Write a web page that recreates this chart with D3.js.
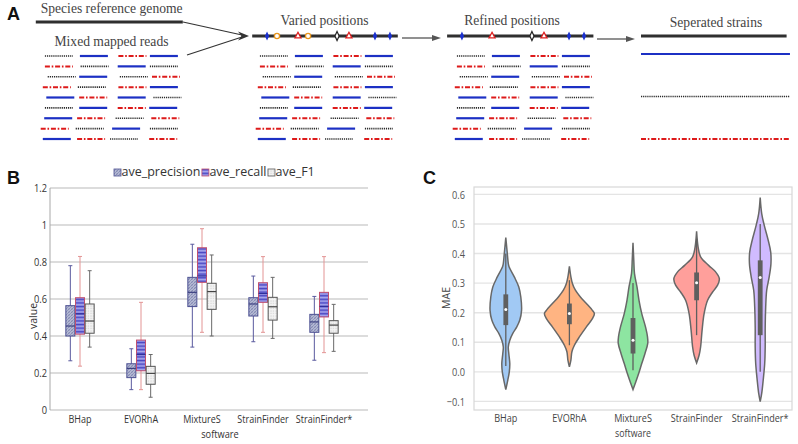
<!DOCTYPE html>
<html><head><meta charset="utf-8">
<script src="https://cdn.jsdelivr.net/npm/d3@7/dist/d3.min.js"></script>
<style>
body{margin:0;background:#fff}
svg{display:block}
</style></head><body>
<svg id="fig" width="798" height="444" xmlns="http://www.w3.org/2000/svg"></svg>
<script>
// ================= Panel A data (schematic) =================
const readKinds = [
  ["D","B","R","B"],
  ["R","D","B","D"],
  ["D","B","D","R"],
  ["R","D","R","B"],
  ["B","R","B","D"],
  ["D","B","R","B"],
  ["B","R","D","R"],
  ["R","D","B","D"],
  ["B","R","D","R"]
];
const readStarts = [
  [3.5,28.5,56,78.5],
  [3.5,29,55.5,78.5],
  [5.5,28,57,80],
  [2,27,56,78.5],
  [4.5,28,55.5,81],
  [3.5,28,55.5,78],
  [3,26.5,54,79.5],
  [0.5,25.5,51.5,78.5],
  [2,26.5,50,78]
];
const readLength = 20;
const variedBlue = [8.6,85.7,96.4];
const variedOrange = [15.7,37.9];
const variedRed = [30.7,67.1];
const variedBlack = [58.6];
const refinedBlue = [7.1,83.6,94.3];
const refinedRed = [28.6,65.7];
const refinedBlack = [57.1];
const strainKinds = ["B","D","R"];

// ================= Panel B data =================
const categories = ["BHap","EVORhA","MixtureS","StrainFinder","StrainFinder*"];
const seriesB = ["ave_precision","ave_recall","ave_F1"];
// [min, q1, median, q3, max]
const precisionStats = [
  [0.266,0.400,0.454,0.564,0.780],
  [0.110,0.175,0.225,0.250,0.331],
  [0.340,0.559,0.636,0.717,0.896],
  [0.369,0.508,0.573,0.607,0.724],
  [0.269,0.420,0.476,0.517,0.614]
];
const recallStats = [
  [0.237,0.410,0.520,0.607,0.830],
  [0.110,0.212,0.300,0.378,0.582],
  [0.420,0.690,0.725,0.877,0.980],
  [0.420,0.582,0.630,0.688,0.829],
  [0.310,0.503,0.560,0.636,0.829]
];
const f1Stats = [
  [0.340,0.415,0.481,0.573,0.753],
  [0.069,0.139,0.198,0.236,0.300],
  [0.400,0.544,0.640,0.685,0.838],
  [0.387,0.486,0.558,0.609,0.717],
  [0.317,0.415,0.459,0.483,0.571]
];
const ticksB = [0,0.2,0.4,0.6,0.8,1,1.2];

// ================= Panel C data =================
const ticksC = [-0.1,0,0.1,0.2,0.3,0.4,0.5,0.6];
// violin outlines: [MAE value, relative density]
const violinBHap = [[0.454,0],[0.40,0.06],[0.366,0.10],[0.355,0.13],[0.321,0.34],[0.287,0.52],[0.253,0.60],[0.208,0.63],[0.175,0.56],[0.152,0.44],[0.13,0.28],[0.107,0.16],[0.084,0.10],[0.062,0.12],[0.028,0.16],[0.0,0.14],[-0.028,0.08],[-0.06,0]];
const violinEVORhA = [[0.357,0],[0.321,0.06],[0.299,0.12],[0.276,0.24],[0.253,0.44],[0.231,0.68],[0.208,0.92],[0.197,1.0],[0.18,0.92],[0.152,0.68],[0.118,0.40],[0.09,0.20],[0.068,0.10],[0.04,0.06],[0.017,0]];
const violinMixtureS = [[0.436,0],[0.38,0.03],[0.332,0.06],[0.287,0.16],[0.242,0.24],[0.197,0.35],[0.152,0.50],[0.118,0.58],[0.096,0.59],[0.062,0.48],[0.028,0.35],[-0.005,0.23],[-0.034,0.11],[-0.06,0]];
const violinStrainFinder = [[0.475,0],[0.422,0.06],[0.389,0.16],[0.36,0.48],[0.338,0.76],[0.315,0.91],[0.293,0.84],[0.27,0.64],[0.242,0.44],[0.197,0.30],[0.141,0.22],[0.084,0.16],[0.056,0.10],[0.03,0]];
const violinStrainFinderStar = [[0.589,0],[0.535,0.06],[0.496,0.16],[0.445,0.32],[0.405,0.42],[0.366,0.43],[0.321,0.36],[0.276,0.26],[0.22,0.22],[0.152,0.20],[0.084,0.20],[0.028,0.18],[-0.028,0.12],[-0.073,0.06],[-0.101,0]];
// inner box: [whiskerLow, q1, median, q3, whiskerHigh]
const innerBoxC = [
  [0.02,0.158,0.211,0.262,0.40],
  [0.09,0.161,0.197,0.231,0.31],
  [0.005,0.062,0.107,0.182,0.30],
  [0.124,0.242,0.301,0.336,0.45],
  [0.0,0.124,0.319,0.377,0.50]
];
const violinColors = ["#a1c9f4","#ffb482","#8de5a1","#ff9f9b","#d0bbff"];

// ===========================================================
const svg = d3.select("#fig");
const defs = svg.append("defs");

// ---------- Panel A ----------
const gA = svg.append("g");
const readStyle = {
  D:{stroke:"#2a2a2a", width:1.7, dash:"1.2,0.9"},
  B:{stroke:"#1c30c4", width:2.2, dash:null},
  R:{stroke:"#dd1a1a", width:2, dash:"5,1.8,1.6,1.8"}
};
const rowY = d3.scaleLinear().domain([0,8]).range([56,139]);
const blockOrigins = [40,255,452];
const genomeScales = blockOrigins.map(o => d3.scaleLinear().domain([0,100]).range([o,o+140]));

genomeScales.forEach(gx => {
  const reads = [];
  readKinds.forEach((row,i)=>row.forEach((k,j)=>reads.push({k, s:readStarts[i][j], r:i})));
  gA.append("g").selectAll("line").data(reads).join("line")
    .attr("x1",d=>gx(d.s)).attr("x2",d=>gx(d.s+readLength))
    .attr("y1",d=>rowY(d.r)).attr("y2",d=>rowY(d.r))
    .attr("stroke",d=>readStyle[d.k].stroke)
    .attr("stroke-width",d=>readStyle[d.k].width)
    .attr("stroke-dasharray",d=>readStyle[d.k].dash);
});

// reference genome lines
const g1 = genomeScales[0], g2 = genomeScales[1], g3 = genomeScales[2];
const g4 = d3.scaleLinear().domain([0,100]).range([641,781]);
gA.append("line").attr("x1",g1(-3)).attr("x2",g1(102)).attr("y1",22).attr("y2",22).attr("stroke","#2f2f2f").attr("stroke-width",3);
gA.append("line").attr("x1",g2(-2)).attr("x2",g2(102)).attr("y1",36).attr("y2",36).attr("stroke","#2f2f2f").attr("stroke-width",3);
gA.append("line").attr("x1",g3(-3.5)).attr("x2",g3(101)).attr("y1",36).attr("y2",36).attr("stroke","#2f2f2f").attr("stroke-width",3);
gA.append("line").attr("x1",g4(0)).attr("x2",g4(104)).attr("y1",36).attr("y2",36).attr("stroke","#2f2f2f").attr("stroke-width",3);

// separated strains
const strainY = d3.scalePoint().domain(strainKinds).range([54,139]);
gA.append("g").selectAll("line").data(strainKinds).join("line")
  .attr("x1",g4(0)).attr("x2",g4(106.4))
  .attr("y1",d=>strainY(d)).attr("y2",d=>strainY(d))
  .attr("stroke",d=>readStyle[d].stroke)
  .attr("stroke-width",d=>readStyle[d].width)
  .attr("stroke-dasharray",d=>readStyle[d].dash);

// markers
const diamond = "M0,-4.6 L2.1,0 L0,4.6 L-2.1,0Z";
const tri = "M0,-3.2 L3,2.4 L-3,2.4Z";
function markers(gx, blue, orange, red, black){
  const g = gA.append("g");
  g.selectAll(".bd").data(blue).join("path").attr("d",diamond)
    .attr("transform",d=>`translate(${gx(d)},36)`).attr("fill","#1a30d0");
  g.selectAll(".oc").data(orange).join("circle").attr("cx",d=>gx(d)).attr("cy",36).attr("r",2.6)
    .attr("fill","#fff").attr("stroke","#e8961e").attr("stroke-width",1.3);
  g.selectAll(".rt").data(red).join("path").attr("d",tri)
    .attr("transform",d=>`translate(${gx(d)},35.5)`).attr("fill","#fff").attr("stroke","#dd2020").attr("stroke-width",1.3);
  g.selectAll(".kd").data(black).join("path").attr("d",diamond)
    .attr("transform",d=>`translate(${gx(d)},36)`).attr("fill","#fff").attr("stroke","#222").attr("stroke-width",1.2);
}
markers(g2, variedBlue, variedOrange, variedRed, variedBlack);
markers(g3, refinedBlue, [], refinedRed, refinedBlack);

// arrows
gA.append("line").attr("x1",183).attr("y1",22).attr("x2",242).attr("y2",35).attr("stroke","#333").attr("stroke-width",1.2);
gA.append("line").attr("x1",187).attr("y1",55).attr("x2",242).attr("y2",37).attr("stroke","#333").attr("stroke-width",1.2);
gA.append("path").attr("d","M249,36 L238,31.5 L241.5,36 L238,40.5Z").attr("fill","#333");
gA.append("line").attr("x1",402).attr("y1",38).attr("x2",434).attr("y2",38).attr("stroke","#555").attr("stroke-width",1.3);
gA.append("path").attr("d","M441,38 L432,35 L432,41Z").attr("fill","#555");
gA.append("line").attr("x1",597).attr("y1",39).attr("x2",628).attr("y2",39).attr("stroke","#555").attr("stroke-width",1.3);
gA.append("path").attr("d","M635,39 L626,36 L626,42Z").attr("fill","#555");

// texts A
const serif = "'Liberation Serif','Times New Roman',serif";
gA.append("text").attr("x",7).attr("y",20).text("A").attr("font-family","'Liberation Sans',Arial,sans-serif").attr("font-weight","bold").attr("font-size",18).attr("fill","#111");
const aTexts = [
  {t:"Species reference genome", x:40.7, y:13, a:"start"},
  {t:"Mixed mapped reads", x:111.5, y:46, a:"middle"},
  {t:"Varied positions", x:324.5, y:25, a:"middle"},
  {t:"Refined positions", x:512, y:25, a:"middle"},
  {t:"Seperated strains", x:716, y:27, a:"middle"}
];
gA.selectAll(".at").data(aTexts).join("text").attr("x",d=>d.x).attr("y",d=>d.y).attr("text-anchor",d=>d.a)
  .attr("font-family",serif).attr("font-size",13.6).attr("fill","#444").text(d=>d.t);

// ---------- Panel B ----------
function pattern(id, w, h, bg, draw){
  const p = defs.append("pattern").attr("id",id).attr("patternUnits","userSpaceOnUse").attr("width",w).attr("height",h);
  p.append("rect").attr("width",w).attr("height",h).attr("fill",bg);
  draw(p);
}
pattern("patPrec",3,3,"#b4b9d2",p=>{
  p.append("path").attr("d","M0,3 L3,0 M-1,1 L1,-1 M2,4 L4,2").attr("stroke","#7a80ad").attr("stroke-width",0.8);
  p.append("path").attr("d","M0,0 L3,3").attr("stroke","#9aa0c4").attr("stroke-width",0.6);
});
pattern("patRec",4,3.6,"#7b79dc",p=>{
  p.append("rect").attr("y",0).attr("width",4).attr("height",1).attr("fill","#4a48c2");
  p.append("rect").attr("y",2).attr("width",4).attr("height",0.9).attr("fill","#b4b4f0");
});
pattern("patF1",2.5,2.5,"#f4f4f4",p=>{
  p.append("rect").attr("x",0.5).attr("y",0.5).attr("width",0.9).attr("height",0.9).attr("fill","#b5b5b5");
});

const sans = "'Open Sans','Noto Sans',sans-serif";
const gB = svg.append("g");
const xB = d3.scaleBand().domain(categories).range([49.5,354.5]);
const xSub = d3.scaleBand().domain(seriesB).range([-14.5,14.5]);
const yB = d3.scaleLinear().domain([0,1.2]).range([410,188]);

gB.append("g").selectAll("line").data(ticksB).join("line")
  .attr("x1",50).attr("x2",368).attr("y1",d=>yB(d)).attr("y2",d=>yB(d))
  .attr("stroke","#b9b9b9").attr("stroke-width",1.1);
gB.append("line").attr("x1",50).attr("x2",50).attr("y1",yB(1.2)).attr("y2",yB(0)).attr("stroke","#a8a8a8").attr("stroke-width",1);

function squeeze(sel,k){
  sel.each(function(){
    const t = d3.select(this); const x = +t.attr("x")||0;
    t.attr("transform",`translate(${x},0) scale(${k},1) translate(${-x},0)`);
  });
}

const yAxisB = gB.append("g").attr("transform","translate(50,0)")
  .call(d3.axisLeft(yB).tickValues(ticksB).tickFormat(d=>String(d)).tickSize(0).tickPadding(3));
yAxisB.select(".domain").remove();
yAxisB.selectAll("text").attr("font-family",sans).attr("font-size",10.5).attr("fill","#333");
squeeze(yAxisB.selectAll("text"),0.88);

const xAxisB = gB.append("g").attr("transform","translate(0,410)")
  .call(d3.axisBottom(xB).tickSize(0).tickPadding(6));
xAxisB.select(".domain").remove();
xAxisB.selectAll("text").attr("font-family",sans).attr("font-size",10.5).attr("fill","#333");
squeeze(xAxisB.selectAll("text"),0.86);

const seriesStyle = [
  {id:"ave_precision", stats:precisionStats, fill:"url(#patPrec)", border:"#4d5192", whisker:"#5a5a9e", median:"#3c4080"},
  {id:"ave_recall", stats:recallStats, fill:"url(#patRec)", border:"#c2506e", whisker:"#e39494", median:"#30309a"},
  {id:"ave_F1", stats:f1Stats, fill:"url(#patF1)", border:"#555", whisker:"#6a6a6a", median:"#444"}
];
const boxW = 9, capW = 4;
seriesStyle.forEach(s=>{
  const data = categories.map((c,i)=>({c, v:s.stats[i], cx: xB(c)+xB.bandwidth()/2 + xSub(s.id)+xSub.bandwidth()/2}));
  const g = gB.append("g");
  g.selectAll(".w").data(data).join("line")
    .attr("x1",d=>d.cx).attr("x2",d=>d.cx).attr("y1",d=>yB(d.v[0])).attr("y2",d=>yB(d.v[4]))
    .attr("stroke",s.whisker).attr("stroke-width",1);
  g.selectAll(".cl").data(data).join("line")
    .attr("x1",d=>d.cx-capW/2).attr("x2",d=>d.cx+capW/2).attr("y1",d=>yB(d.v[0])).attr("y2",d=>yB(d.v[0]))
    .attr("stroke",s.whisker).attr("stroke-width",1);
  g.selectAll(".ch").data(data).join("line")
    .attr("x1",d=>d.cx-capW/2).attr("x2",d=>d.cx+capW/2).attr("y1",d=>yB(d.v[4])).attr("y2",d=>yB(d.v[4]))
    .attr("stroke",s.whisker).attr("stroke-width",1);
  g.selectAll(".b").data(data).join("rect")
    .attr("x",d=>d.cx-boxW/2).attr("width",boxW).attr("y",d=>yB(d.v[3])).attr("height",d=>yB(d.v[1])-yB(d.v[3]))
    .attr("fill",s.fill).attr("stroke",s.border).attr("stroke-width",1);
  g.selectAll(".m").data(data).join("line")
    .attr("x1",d=>d.cx-boxW/2).attr("x2",d=>d.cx+boxW/2).attr("y1",d=>yB(d.v[2])).attr("y2",d=>yB(d.v[2]))
    .attr("stroke",s.median).attr("stroke-width",1.2);
});

// legend
let lx = 114;
seriesStyle.forEach((s,i)=>{
  gB.append("rect").attr("x",lx).attr("y",169).attr("width",7).attr("height",7)
    .attr("fill",s.fill).attr("stroke",s.border).attr("stroke-width",0.8);
  const t = gB.append("text").attr("x",lx+7.5).attr("y",176).text(s.id)
    .attr("font-family",sans).attr("font-size",12.5).attr("fill","#333");
  lx = lx + 7.5 + t.node().getComputedTextLength() + 1.5;
});

gB.append("text").attr("x",7).attr("y",184).text("B").attr("font-family","'Liberation Sans',Arial,sans-serif").attr("font-weight","bold").attr("font-size",18).attr("fill","#111");
gB.append("text").attr("transform","translate(37,316) rotate(-90)").attr("text-anchor","middle").text("value")
  .attr("font-family",sans).attr("font-size",10.5).attr("fill","#333");
const swB = gB.append("text").attr("x",220).attr("y",438).attr("text-anchor","middle").text("software")
  .attr("font-family",sans).attr("font-size",10.5).attr("fill","#333");
squeeze(swB,0.88);

// ---------- Panel C ----------
const gC = svg.append("g");
const xC = d3.scaleBand().domain(categories).range([474,792]);
const yC = d3.scaleLinear().domain([-0.129,0.625]).range([410,187]);
const wC = d3.scaleLinear().domain([0,1]).range([0,25]);

gC.append("g").selectAll("line").data(ticksC).join("line")
  .attr("x1",474).attr("x2",792).attr("y1",d=>yC(d)).attr("y2",d=>yC(d))
  .attr("stroke","#e4e4e4").attr("stroke-width",1.4);
gC.append("rect").attr("x",474).attr("y",187).attr("width",318).attr("height",223)
  .attr("fill","none").attr("stroke","#d8d8d8").attr("stroke-width",1.2);

const yAxisC = gC.append("g").attr("transform","translate(474,0)")
  .call(d3.axisLeft(yC).tickValues(ticksC).tickFormat(d3.format(".1f")).tickSize(0).tickPadding(9));
yAxisC.select(".domain").remove();
yAxisC.selectAll("text").attr("font-family",sans).attr("font-size",11.5).attr("fill","#555");
squeeze(yAxisC.selectAll("text"),0.8);

const xAxisC = gC.append("g").attr("transform","translate(0,410)")
  .call(d3.axisBottom(xC).tickSize(0).tickPadding(4));
xAxisC.select(".domain").remove();
xAxisC.selectAll("text").attr("font-family",sans).attr("font-size",10.8).attr("fill","#444");
squeeze(xAxisC.selectAll("text"),0.84);

const violins = [violinBHap, violinEVORhA, violinMixtureS, violinStrainFinder, violinStrainFinderStar];
categories.forEach((c,i)=>{
  const cx = xC(c) + xC.bandwidth()/2;
  const area = d3.area().curve(d3.curveCatmullRom.alpha(0.5))
    .y(d=>yC(d[0])).x0(d=>cx-wC(d[1])).x1(d=>cx+wC(d[1]));
  gC.append("path").datum(violins[i]).attr("d",area)
    .attr("fill",violinColors[i]).attr("stroke","#686868").attr("stroke-width",1.5);
  const b = innerBoxC[i];
  gC.append("line").attr("x1",cx).attr("x2",cx).attr("y1",yC(b[0])).attr("y2",yC(b[4]))
    .attr("stroke","#5f5f5f").attr("stroke-width",1.3);
  gC.append("rect").attr("x",cx-2.4).attr("width",4.8).attr("y",yC(b[3])).attr("height",yC(b[1])-yC(b[3]))
    .attr("fill","#5f5f5f");
  gC.append("circle").attr("cx",cx).attr("cy",yC(b[2])).attr("r",1.5).attr("fill","#fff");
});

gC.append("text").attr("x",423).attr("y",184).text("C").attr("font-family","'Liberation Sans',Arial,sans-serif").attr("font-weight","bold").attr("font-size",18).attr("fill","#111");
gC.append("text").attr("transform","translate(450,298) rotate(-90)").attr("text-anchor","middle").text("MAE")
  .attr("font-family",sans).attr("font-size",10.5).attr("fill","#444");
const swC = gC.append("text").attr("x",633).attr("y",437).attr("text-anchor","middle").text("software")
  .attr("font-family",sans).attr("font-size",10.5).attr("fill","#444");
squeeze(swC,0.84);
</script>
</body></html>
